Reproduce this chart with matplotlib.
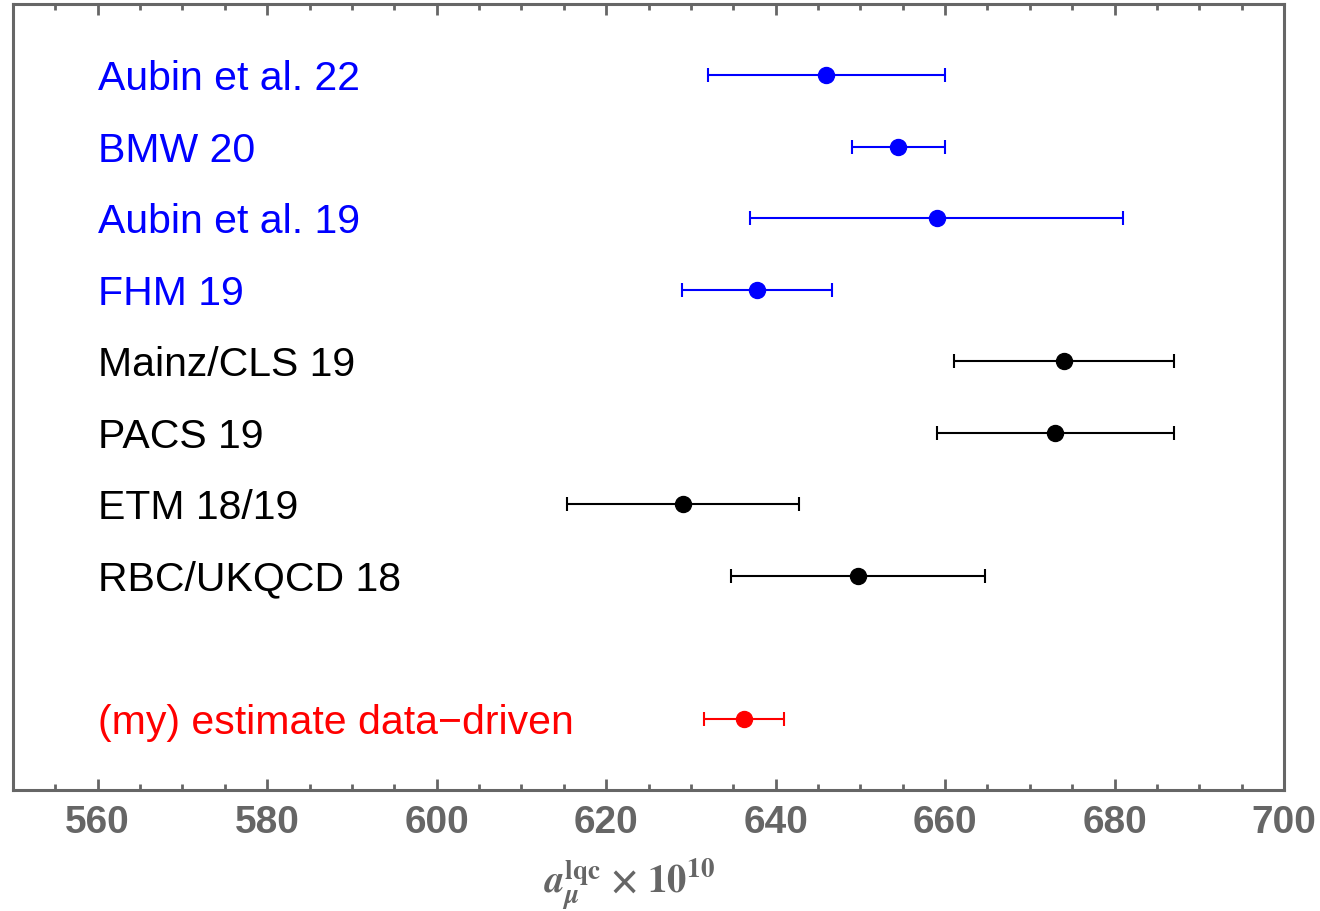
import matplotlib
matplotlib.use("Agg")
import matplotlib.pyplot as plt
from matplotlib.ticker import MultipleLocator

labels = ["Aubin et al. 22", "BMW 20", "Aubin et al. 19", "FHM 19",
          "Mainz/CLS 19", "PACS 19", "ETM 18/19", "RBC/UKQCD 18",
          "(my) estimate data\u2212driven"]
values = [646.0, 654.5, 659.0, 637.8, 674.0, 673.0, 629.1, 649.7, 636.3]
errors = [14.0, 5.5, 22.0, 8.9, 13.0, 14.0, 13.7, 15.0, 4.7]
colors = ["#0000ff", "#0000ff", "#0000ff", "#0000ff",
          "#000000", "#000000", "#000000", "#000000", "#ff0000"]
ypos = [10, 9, 8, 7, 6, 5, 4, 3, 1]

gray = "#666666"
plt.rcParams["font.family"] = ["Liberation Sans", "DejaVu Sans"]
plt.rcParams["mathtext.fontset"] = "stix"

fig = plt.figure(figsize=(13.2, 9.11), dpi=100)
ax = fig.add_axes([13/1320, (911-790)/911, (1284-13)/1320, (790-4)/911])

for lab, v, e, c, y in zip(labels, values, errors, colors, ypos):
    ax.errorbar(v, y, xerr=e, fmt="o", color=c, ecolor=c, markersize=11.5,
                elinewidth=1.5, capsize=5, capthick=1.5)
    ax.text(560, y - 0.21, lab, color=c, fontsize=29.5, ha="left", va="baseline")

ax.set_xlim(550, 700)
ax.set_ylim(0, 11)
ax.set_yticks([])
ax.xaxis.set_major_locator(MultipleLocator(20))
ax.xaxis.set_minor_locator(MultipleLocator(5))
ax.tick_params(axis="x", which="both", direction="in", top=True, bottom=True,
               color=gray, labelcolor=gray, labelsize=28, pad=11)
ax.tick_params(axis="x", which="major", length=8, width=2)
ax.tick_params(axis="x", which="minor", length=4, width=2)
for lbl in ax.get_xticklabels():
    lbl.set_fontweight("bold")
for s in ax.spines.values():
    s.set_color(gray)
    s.set_linewidth(2.2)

ax.set_xlabel("$\\mathbfit{a}_{\\mathbfit{\\mu}}^{\\mathbf{lqc}}\\ \\mathbf{\u00d7\\ 10^{10}}$",
              color=gray, fontsize=28)
ax.xaxis.set_label_coords(0.485, -0.085)

fig.savefig("out.png", dpi=100)
